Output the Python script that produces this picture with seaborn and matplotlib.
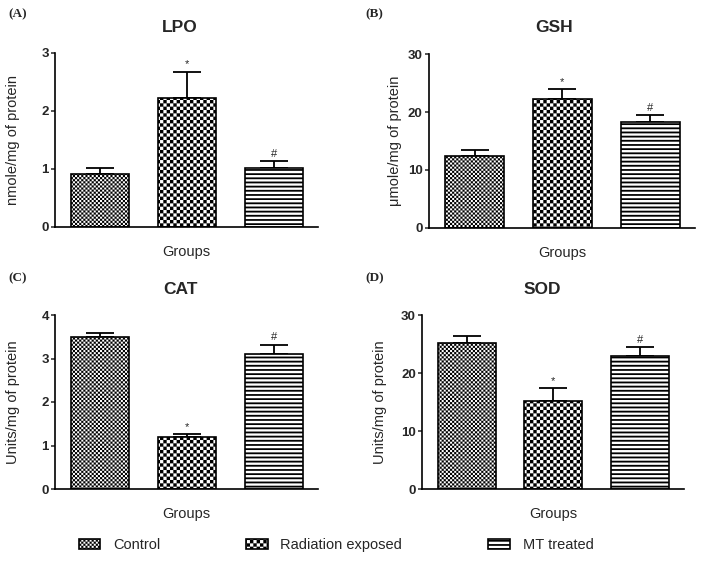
import warnings
import numpy as np
import matplotlib
matplotlib.use('Agg')
import matplotlib.pyplot as plt
import matplotlib.hatch as mhatch
from matplotlib.path import Path
from matplotlib.patches import Patch
import seaborn as sns

warnings.filterwarnings('ignore')

# ---- data ----
groups = ['Control', 'Radiation exposed', 'MT treated']

lpo_mean = [0.92, 2.22, 1.02]
lpo_sem = [0.09, 0.46, 0.11]
gsh_mean = [12.45, 22.25, 18.25]
gsh_sem = [1.05, 1.75, 1.25]
cat_mean = [3.49, 1.20, 3.11]
cat_sem = [0.10, 0.055, 0.21]
sod_mean = [25.2, 15.2, 23.0]
sod_sem = [1.2, 2.2, 1.5]

marks = ['', '*', '#']

panels = [
    ('(A)', 'LPO', 'nmole/mg of protein', lpo_mean, lpo_sem, [0, 1, 2, 3]),
    ('(B)', 'GSH', '\u03bcmole/mg of protein', gsh_mean, gsh_sem, [0, 10, 20, 30]),
    ('(C)', 'CAT', 'Units/mg of protein', cat_mean, cat_sem, [0, 1, 2, 3, 4]),
    ('(D)', 'SOD', 'Units/mg of protein', sod_mean, sod_sem, [0, 10, 20, 30]),
]


# ---- custom fill patterns (checkerboards / stripes) ----
class TileHatch(mhatch.HatchPatternBase):
    char = None

    def __init__(self, hatch, density):
        n = hatch.count(self.char) * density if hatch else 0
        self.rects = self.make_rects(n) if n else []
        self.num_vertices = 5 * len(self.rects)

    def set_vertices_and_codes(self, vertices, codes):
        for k, (x0, y0, x1, y1) in enumerate(self.rects):
            vertices[5 * k:5 * k + 5] = [(x0, y0), (x1, y0), (x1, y1), (x0, y1), (x0, y0)]
            codes[5 * k:5 * k + 5] = [Path.MOVETO, Path.LINETO, Path.LINETO,
                                      Path.LINETO, Path.CLOSEPOLY]


def checker(n):
    s = 1.0 / n
    return [(i * s, j * s, (i + 1) * s, (j + 1) * s)
            for i in range(n) for j in range(n) if (i + j) % 2 == 0]


class SmallChecker(TileHatch):
    char = 'k'
    make_rects = staticmethod(checker)


class BigChecker(TileHatch):
    char = 'K'
    make_rects = staticmethod(checker)


class Stripes(TileHatch):
    char = 's'

    @staticmethod
    def make_rects(n):
        return [(0, i / n, 1, (i + 0.42) / n) for i in range(n)]


mhatch._hatch_types.extend([SmallChecker, BigChecker, Stripes])
hatches = ['kkkkkkkk', 'KKKKK', 'ssss']

# ---- style ----
sns.set_style('ticks')
plt.rcParams['font.family'] = ['Liberation Sans', 'DejaVu Sans']
plt.rcParams['hatch.linewidth'] = 0.05
plt.rcParams['hatch.color'] = 'black'

W, H = 704, 563
fig = plt.figure(figsize=(W / 100, H / 100), dpi=100)


def px_rect(l, t, r, b):
    return [l / W, 1 - b / H, (r - l) / W, (b - t) / H]


def fx(x):
    return x / W


def fy(y):
    return 1 - y / H


axes_px = [(55, 53, 318, 227), (429, 54, 695, 228), (55, 315, 318, 489), (422, 315, 684, 489)]
letter_px = [(8, 14), (365, 14), (8, 278), (365, 278)]
title_px = [(180, 27), (554, 28), (180, 289), (542, 290)]
ylab_right = [20, 402, 20, 387]

for (letter, title, ylab, mean, sem, ticks), rect, lp, tp, yr in zip(
        panels, axes_px, letter_px, title_px, ylab_right):
    ax = fig.add_axes(px_rect(*rect))
    sns.barplot(x=groups, y=mean, color='white', saturation=1, width=0.67,
                edgecolor='black', linewidth=1.2, errorbar=None, ax=ax, zorder=2)
    for bar, h in zip(ax.patches, hatches):
        bar.set_hatch(h)
    x = np.arange(len(groups))
    ax.errorbar(x, mean, yerr=[np.zeros(len(mean)), sem], fmt='none', ecolor='black',
                elinewidth=1.3, capsize=10, capthick=1.3, zorder=1)
    for i, (m, s, t) in enumerate(zip(mean, sem, marks)):
        if t:
            ax.annotate(t, (i, m + s), xytext=(0, 1.5), textcoords='offset points',
                        ha='center', va='bottom', fontsize=8)

    ax.set_xlim(-0.52, 2.51)
    ax.set_ylim(0, ticks[-1])
    ax.set_yticks(ticks)
    ax.set_xticks([])
    ax.tick_params(axis='y', length=3, width=1.1, labelsize=9.5, pad=1.5)
    for lab in ax.get_yticklabels():
        lab.set_fontweight('bold')
    sns.despine(ax=ax)
    for sp in ('left', 'bottom'):
        ax.spines[sp].set_linewidth(1.2)
        ax.spines[sp].set_color('black')

    l, t, r, b = rect
    ax.set_ylabel(ylab, fontsize=10.5)
    ax.yaxis.set_label_coords((yr - l) / (r - l), 0.5)
    ax.set_xlabel('Groups', fontsize=10.5)
    ax.xaxis.set_label_coords(0.5, -(245 - 227) / (b - t))

    fig.text(fx(tp[0]), fy(tp[1]), title, ha='center', va='center',
             fontsize=12.5, fontweight='bold')
    fig.text(fx(lp[0]), fy(lp[1]), letter, ha='left', va='center', fontsize=9.5,
             fontweight='bold', family=['Liberation Serif', 'DejaVu Serif'])

handles = [Patch(facecolor='white', edgecolor='black', hatch=h, linewidth=1.2)
           for h in hatches]
fig.legend(handles, groups, loc='center', bbox_to_anchor=(fx(336), fy(545)),
           ncol=3, frameon=False, fontsize=10.5, handlelength=1.5, handleheight=0.72,
           handletextpad=0.85, columnspacing=5.9)

fig.savefig('out.png', dpi=100)
